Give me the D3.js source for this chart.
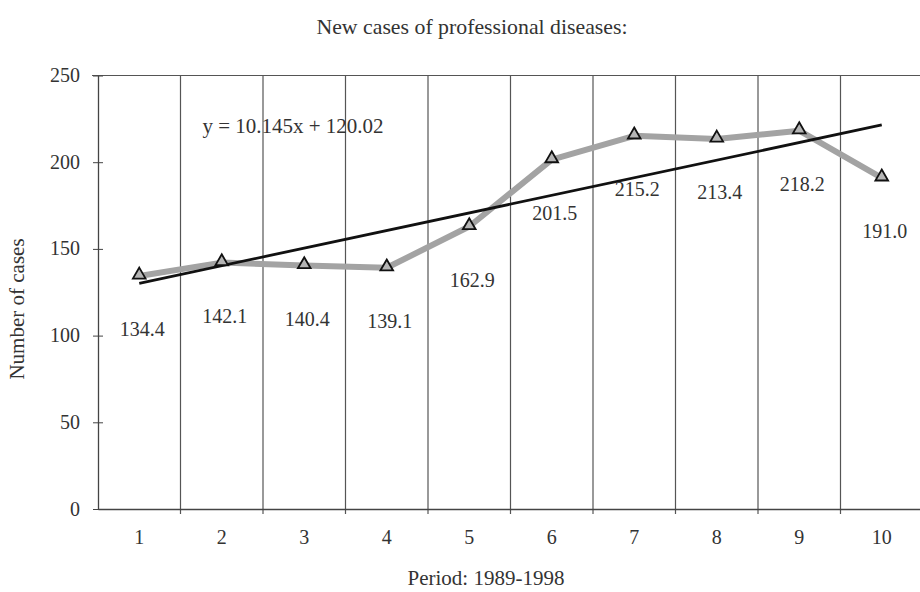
<!DOCTYPE html>
<html>
<head>
<meta charset="utf-8">
<script src="https://cdn.jsdelivr.net/npm/d3@7"></script>
<style>
  body { margin: 0; background: #fff; }
  text { font-family: "Liberation Serif", "DejaVu Serif", serif; fill: #333; }
</style>
</head>
<body>
<div id="chart"></div>
<script>
// data
let periods = [1, 2, 3, 4, 5, 6, 7, 8, 9, 10];
let cases = [134.4, 142.1, 140.4, 139.1, 162.9, 201.5, 215.2, 213.4, 218.2, 191.0];
let yTicks = [0, 50, 100, 150, 200, 250];
let trendSlope = 10.145;
let trendIntercept = 120.02;

let width = 920, height = 592;
let margin = {top: 75.5, right: -3, bottom: 83, left: 98};
let fs = "20px";
let fsBig = "21px";

let svg = d3.select("#chart")
    .append("svg")
    .attr("width", width)
    .attr("height", height);

let x = d3.scaleBand()
    .domain(periods)
    .range([margin.left, width - margin.right])
    .padding(0);

let y = d3.scaleLinear()
    .domain([0, 250])
    .range([height - margin.bottom, margin.top]);

let cx = d => x(d) + x.bandwidth() / 2;

// vertical grid lines at category boundaries
svg.append("g")
    .selectAll("line")
    .data(periods.slice(1))
    .join("line")
    .attr("x1", d => x(d))
    .attr("x2", d => x(d))
    .attr("y1", y(250))
    .attr("y2", y(0) + 5)
    .attr("stroke", "#555")
    .attr("stroke-width", 1.2);

// top border
svg.append("line")
    .attr("x1", margin.left - 6)
    .attr("x2", width)
    .attr("y1", y(250))
    .attr("y2", y(250))
    .attr("stroke", "#555")
    .attr("stroke-width", 1.2);

// y axis
let yAxis = svg.append("g")
    .attr("transform", "translate(" + margin.left + ",0)")
    .call(d3.axisLeft(y).tickValues(yTicks).tickSize(6).tickSizeOuter(0));
yAxis.select(".domain").attr("stroke", "#444").attr("stroke-width", 1.3);
yAxis.selectAll(".tick line").attr("stroke", "#444").attr("x2", 5).attr("x1", -5);
yAxis.selectAll(".tick text")
    .attr("x", -18)
    .attr("dy", "0.3em")
    .style("font-size", fs)
    .style("font-family", "Liberation Serif, serif")
    .attr("fill", "#333");

// x axis
let xAxis = svg.append("g")
    .attr("transform", "translate(0," + y(0) + ")")
    .call(d3.axisBottom(x).tickSize(0).tickSizeOuter(0));
xAxis.select(".domain").attr("stroke", "#444").attr("stroke-width", 1.3);
xAxis.selectAll(".tick text")
    .attr("dy", 0)
    .attr("y", 35)
    .style("font-size", fs)
    .style("font-family", "Liberation Serif, serif")
    .attr("fill", "#333");

// series line
let line = d3.line()
    .x((d, i) => cx(periods[i]))
    .y(d => y(d));

svg.append("path")
    .datum(cases)
    .attr("d", line)
    .attr("fill", "none")
    .attr("stroke", "#a3a3a3")
    .attr("stroke-width", 6)
    .attr("stroke-linejoin", "round");

// linear trend line
let first = periods[0], last = periods[periods.length - 1];
svg.append("line")
    .attr("x1", cx(first))
    .attr("y1", y(trendSlope * first + trendIntercept))
    .attr("x2", cx(last))
    .attr("y2", y(trendSlope * last + trendIntercept))
    .attr("stroke", "#111")
    .attr("stroke-width", 2.8);

// triangle markers
let tri = d3.symbol().type(d3.symbolTriangle).size(70);
svg.append("g")
    .selectAll("path")
    .data(cases)
    .join("path")
    .attr("d", tri)
    .attr("transform", (d, i) => "translate(" + cx(periods[i]) + "," + (y(d) - 1) + ")")
    .attr("fill", "#b5b5b5")
    .attr("stroke", "#111")
    .attr("stroke-width", 1.8);

// data labels
svg.append("g")
    .selectAll("text")
    .data(cases)
    .join("text")
    .attr("x", (d, i) => cx(periods[i]) + 3)
    .attr("y", d => y(d) + 60)
    .attr("text-anchor", "middle")
    .style("font-size", fs)
    .text(d => d.toFixed(1));

// trend equation
svg.append("text")
    .attr("x", 293)
    .attr("y", 133)
    .attr("text-anchor", "middle")
    .style("font-size", fsBig)
    .text("y = " + trendSlope + "x + " + trendIntercept.toFixed(2));

// title
svg.append("text")
    .attr("x", 472)
    .attr("y", 34)
    .attr("text-anchor", "middle")
    .style("font-size", "21.8px")
    .text("New cases of professional diseases:");

// axis titles
svg.append("text")
    .attr("transform", "translate(24," + 309 + ") rotate(-90)")
    .attr("text-anchor", "middle")
    .style("font-size", fsBig)
    .text("Number of cases");

svg.append("text")
    .attr("x", 486)
    .attr("y", 585)
    .attr("text-anchor", "middle")
    .style("font-size", fsBig)
    .text("Period: 1989-1998");
</script>
</body>
</html>
